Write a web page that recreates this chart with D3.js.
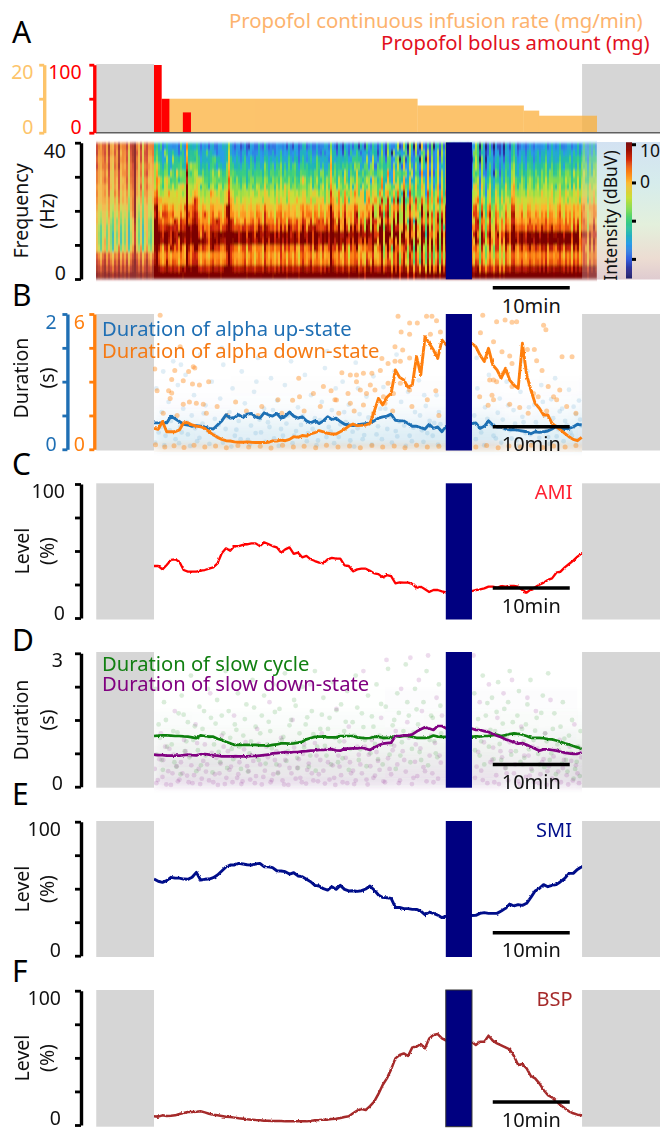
<!DOCTYPE html>
<html><head><meta charset="utf-8">
<script src="https://cdn.jsdelivr.net/npm/d3@7/dist/d3.min.js"></script>
<style>html,body{margin:0;padding:0;background:#fff}svg{display:block}text{font-family:"Noto Sans",sans-serif}</style>
</head><body><svg id="c" width="660" height="1129"></svg>
<script>
// ---------- DATA (time in minutes from induction; sampled every 0.55 min) ----------
const sampleStep = 0.55;
const amiLevel = [38.8,38.8,36.3,39.6,43.3,43.8,42,35.8,34.6,34.6,
34.6,35.3,35.8,36.8,37.8,40.8,48.3,52,50.2,53.7,
53.7,54.5,55,55.7,55.7,53.7,56.5,55.2,53.7,52.7,
48.8,51.2,52.7,47.8,48.8,45.3,46.3,43.8,42.5,41.3,
40.8,43.8,44.8,44.3,44.3,39.3,38.8,34.8,36.3,36.8,
36.8,35.3,33.3,32.8,30.3,32,31.3,25.9,26.6,26.4,
26.4,25.4,22.4,23.4,21.4,19.4,20.9,20.9,19.9,19.2,
20,20,20,20,20,20,20.9,21.4,22.1,23.4,
23.4,22.6,23.9,23.4,23.9,23.9,23.4,20.9,18.9,21.4,
22.9,24.9,26.4,28.4,29.6,33.8,34.6,37.8,40.3,42.8,
45.8,48.3,43.8];
const smiLevel = [57.2,55.5,54.7,56,58.5,57.9,57.9,57.2,57,58.5,
62.2,56.5,57,57.2,58.2,60.2,63.2,66.2,67.7,67.7,
68.9,68.4,67.9,67.7,68.4,68.9,66.4,66.4,65.7,63.4,
63.2,62.7,60.9,61.9,59.5,59,57,55.2,52.5,52,
50,49,51.5,49.5,52.5,49.5,48.3,48.5,48,48.5,
49.8,52,49,45.3,43.5,43.3,42.8,36,36,35.1,
35.1,34.6,34.6,33.3,30.6,32.6,31.6,30.3,28.4,29.6,
30,30,30,30,30,30,30.1,31.6,32.1,31.6,
31.6,31.6,33.3,35.3,38.6,37.1,38.1,37.6,39.1,43.5,
48.3,50.2,53,51.5,52.5,53,55.2,57.7,61.4,61.4,
64.4,66.4,65.9];
const bspLevel = [6.5,6.2,7.2,6.7,6.9,7.2,8.2,8.9,9.7,9.7,
9.9,10.2,9.4,8.4,7.7,7.2,6.7,6.2,6,5.5,
5,4.7,4.2,4,3.7,3.5,3.2,3.2,3,3,
3,2.7,2.7,2.7,2.7,2.7,2.7,3,3.5,3.7,
4,4,4.5,4.7,5.2,6,6.5,8.7,10.7,11.9,
11.2,14.1,17.4,23.1,29.8,34.7,41.4,49.6,52.1,53.3,
51.4,57.8,58.3,60.3,57.1,64.5,67,67.7,64.5,62.8,
62,62,62,62,62,62,59.6,62,62,66.5,
62.8,60.8,59.3,57.8,56.3,51.4,44.7,45.4,42.2,36.5,
34.7,31,26.1,22.3,20.6,17.4,14.9,12.4,10.2,8.7,
7.7,7.2,6.7];
const alphaUp = [.39,.39,.39,.39,.49,.45,.41,.37,.36,.34,
.35,.34,.33,.31,.30,.36,.42,.51,.46,.47,
.51,.47,.52,.53,.48,.46,.54,.51,.49,.53,
.46,.49,.55,.49,.46,.48,.42,.39,.42,.38,
.42,.48,.44,.46,.41,.37,.36,.35,.36,.37,
.38,.39,.42,.46,.48,.49,.52,.43,.42,.42,
.38,.34,.34,.32,.30,.37,.31,.33,.26,.34,
.36,.36,.36,.36,.36,.38,.39,.31,.34,.42,
.36,.33,.33,.30,.29,.29,.28,.27,.26,.23,
.26,.25,.26,.27,.30,.34,.31,.29,.31,.33,
.37,.36];
const alphaDown = [.93,.89,1.23,.78,.78,.78,.86,1.18,1.18,1.08,
1.03,1.0,.93,.78,.64,.53,.44,.38,.37,.33,
.31,.31,.33,.31,.30,.30,.30,.31,.37,.37,
.41,.38,.44,.56,.53,.61,.59,.68,.74,.83,
.77,.71,.68,.68,.78,.89,1.03,1.12,1.05,1.06,
1.08,1.15,1.67,2.26,1.97,2.31,2.48,3.52,3.19,3.07,
2.75,2.85,4.11,3.30,4.99,4.70,4.40,4.03,4.85,4.63,
4.55,4.55,4.55,4.55,4.63,4.70,4.55,4.18,3.89,4.48,
3.74,3.52,3.15,3.59,3.07,2.85,2.70,4.70,3.30,2.63,
2.04,1.82,1.52,1.52,1.15,1.0,.86,.71,.56,.44,
.38,.53];
const slowCycle = [1.14,1.15,1.155,1.155,1.15,1.14,1.14,1.13,1.125,1.11,
1.09,1.155,1.14,1.125,1.125,1.08,1.05,1.01,.975,.94,
.94,.94,.94,.94,.94,.93,.93,.92,.94,.95,
.975,.975,.97,.975,.99,1.01,1.065,1.095,1.12,1.125,
1.125,1.11,1.11,1.11,1.14,1.14,1.14,1.14,1.11,1.10,
1.09,1.095,1.125,1.12,1.10,1.10,1.10,1.14,1.125,1.14,
1.14,1.12,1.10,1.10,1.10,1.11,1.15,1.125,1.12,1.12,
1.12,1.12,1.12,1.12,1.12,1.12,1.135,1.125,1.14,1.14,
1.16,1.17,1.14,1.16,1.185,1.20,1.19,1.17,1.14,1.10,
1.10,1.10,1.09,1.07,1.065,1.04,1.01,.975,.95,.915,
.885,.85];
const slowDown = [.72,.71,.71,.70,.70,.70,.70,.71,.72,.71,
.705,.73,.735,.72,.705,.70,.68,.68,.68,.68,
.68,.68,.68,.69,.69,.70,.71,.72,.75,.757,
.765,.78,.765,.78,.78,.795,.80,.81,.817,.83,
.825,.84,.84,.817,.81,.855,.855,.86,.86,.877,
.855,.825,.885,.93,.967,.98,.99,1.14,1.14,1.155,
1.155,1.177,1.24,1.29,1.335,1.31,1.275,1.365,1.365,1.31,
1.31,1.31,1.31,1.31,1.31,1.31,1.275,1.275,1.25,1.23,
1.185,1.147,1.11,1.065,1.035,1.0,.967,.98,.945,.9,
.855,.81,.84,.84,.825,.81,.787,.765,.75,.74,
.74,.77];
// propofol
const bolusStart=[0,1,3.75], bolusEnd=[1,2,4.8], bolusMg=[100,50,30];
const infusionStart=[1,34.2,48,50], infusionEnd=[34.2,48,50,57.5], infusionRate=[10,8,6.5,5];
// scatter points [time, duration]
const upDots=[[.3,.9],[.6,.25],[1,.55],[1.2,1.15],[1.5,.2],[1.9,.7],[2.2,.42],[2.5,1.3],[2.8,.15],[3.1,.95],[3.4,.33],[3.8,.6],[4.1,1.1],[4.4,.22],[4.9,.5],[5.2,.8],[5.6,.12],[6,1.4],[6.3,.38],[6.7,.65],[7,.27],[7.5,1],[7.9,.45],[8.2,.18],[8.6,.75],[9,1.25],[9.3,.3],[9.8,.55],[10.2,.9],[10.5,.2],[11,.42],[11.4,1.15],[11.8,.68],[12.2,.14],[12.6,.35],[13,.85],[13.5,1.35],[13.9,.25],[14.3,.6],[14.8,.4],[15.2,1.05],[15.6,.16],[16,.72],[16.5,.3],[17,.95],[17.4,.5],[17.8,1.3],[18.2,.2],[18.7,.62],[19.1,.36],[19.6,1.1],[20,.24],[20.4,.8],[20.9,.46],[21.3,.13],[21.8,.7],[22.2,1.2],[22.7,.33],[23.1,.58],[23.6,.9],[24,.18],[24.5,1.0],[24.9,.4],[25.3,.66],[25.8,.26],[26.2,1.28],[26.7,.52],[27.1,.15],[27.6,.78],[28,.38],[28.5,1.08],[28.9,.22],[29.4,.6],[29.8,.92],[30.3,.3],[30.7,.48],[31.2,1.15],[31.6,.19],[32.1,.7],[32.5,.35],[33,.85],[33.5,.12],[33.9,.55],[34.4,1.02],[34.8,.28],[35.3,.64],[35.8,.42],[36.2,.2],[36.7,.8],[37.2,.37],[41.6,.5],[42,.9],[42.5,.25],[43,.62],[43.5,1.1],[43.9,.35],[44.4,.16],[44.9,.75],[45.3,.44],[45.8,1.0],[46.2,.28],[46.7,.58],[47.1,.13],[47.6,.85],[48,.4],[48.5,1.15],[48.9,.22],[49.4,.66],[49.8,.33],[50.3,.95],[50.7,.5],[51.2,.18],[51.6,.74],[52.1,1.05],[52.5,.3],[53,.6],[53.4,.42],[53.9,.88],[54.3,.2],[54.8,.52],[55.2,.72],[55.5,.35],
[.15,.1],[.9,.33],[1.35,.06],[2.05,.28],[2.6,.48],[3.25,.09],[3.6,.25],[4.25,.4],[4.7,.05],[5.35,.31],[5.9,.17],[6.45,.53],[7.2,.08],[7.75,.22],[8.4,.36],[8.95,.1],[9.55,.47],[10.05,.04],[10.7,.29],[11.25,.15],[12,.51],[12.45,.07],[13.2,.24],[13.7,.44],[14.45,.11],[15,.33],[15.45,.58],[16.2,.05],[16.75,.2],[17.2,.38],[18,.09],[18.45,.27],[19.3,.49],[19.85,.12],[20.6,.3],[21.1,.06],[21.55,.43],[22.4,.18],[22.95,.26],[23.4,.09],[24.2,.37],[24.7,.55],[25.5,.13],[26,.04],[26.45,.31],[27.3,.21],[27.85,.47],[28.3,.07],[29.1,.34],[29.6,.15],[30.05,.6],[30.9,.1],[31.4,.27],[31.85,.41],[32.7,.05],[33.2,.2],[33.7,.32],[34.55,.5],[35,.11],[35.5,.24],[36.4,.39],[36.9,.07],[41.8,.15],[42.25,.33],[42.9,.06],[43.3,.45],[44.1,.2],[44.65,.54],[45.1,.1],[45.55,.3],[46,.65],[46.45,.16],[46.9,.38],[47.35,.05],[47.85,.48],[48.25,.24],[48.7,.62],[49.15,.1],[49.6,.4],[50.05,.17],[50.5,.7],[50.95,.28],[51.4,.08],[51.85,.46],[52.3,.19],[52.7,.56],[53.2,.12],[53.6,.36],[54.1,.25],[54.5,.63],[55,.14],[55.35,.44],[37,.55],[35.1,.8],[26.5,.9],[13.3,1.0],[3.5,1.25],[41.9,1.35],[22.5,1.45],[47.9,1.3],[31.5,1.4],[8.8,1.5]];
const downDots=[[.8,5.95],[.1,3.56],[2.7,3.5],[4.5,3.45],[5.1,3.66],[5.3,3.6],[2.3,3.1],[3.8,3.04],[7.1,3],[5,2.9],[5.9,2.85],[1.9,2.6],[2.3,2.5],[2.1,2.25],[.4,2.6],[3.8,2],[5.5,2.04],[4.6,2.1],[6.4,2],[3.4,4.55],[18.8,3.15],[22,2.78],[20.7,2.48],[18,2.18],[18.9,2.33],[8.2,1.9],[10.6,2.1],[12,1.7],[14,1.9],[16.1,2.2],[1.2,1.6],[3,1.5],[6.8,1.6],[9.5,1.5],[13.5,1.5],[16.6,1.6],[19.5,1.7],[21.6,1.9],[23.5,2.2],[23,2.6],[31.7,5.9],[35.4,5.9],[36.1,5.9],[33.2,5.6],[34.2,5.6],[36.7,5.7],[32.1,5.2],[33.2,5.1],[35.9,5.1],[37.2,5.2],[31.3,4.55],[32.3,4.4],[29.6,4.03],[30.4,3.8],[31.3,3.9],[32,3.9],[33.2,4.05],[24.4,3.4],[25.5,3.3],[26.3,3.3],[27.2,3.37],[28.3,3.37],[29.4,3.5],[28.1,2.85],[26.3,3],[26.8,2.63],[25.2,2.48],[27.6,2.48],[28.7,2.63],[23.7,2.19],[25.5,2.04],[27.2,1.97],[29.8,2.33],[30.4,2.93],[32,2.93],[33.2,2.63],[30,2.04],[31.1,2.48],[24,1.6],[26,1.7],[28.5,1.6],[31,1.7],[33.5,1.9],[35.5,2.2],[36.6,2.6],[37,1.5],[42.7,5.95],[44.5,5.66],[45.6,5.73],[46.5,5.63],[47.1,5.66],[50.6,5.5],[50.9,5.3],[42.4,5.17],[44.1,4.77],[45.2,4.33],[48.5,4.43],[49.4,4.43],[46.2,4.14],[49.7,3.93],[46.5,3.8],[50.4,3.5],[45.4,3.4],[53,4.1],[54.3,4.1],[51.2,2.78],[52.7,2.63],[44.1,3.07],[43.6,3.07],[44.5,3],[46.5,2.78],[42.3,2.33],[43.9,2.4],[44.1,2.2],[49.9,2.33],[51.9,2.33],[52.3,2.2],[49.3,2.48],[46.2,2],[47.5,1.85],[43.4,1.95],[48.6,1.6],[51,1.7],[53.6,1.9],[54.8,1.6],[.2,.2],[1.4,.1],[2.6,.16],[3.9,.08],[5.2,.18],[6.6,.1],[8,.15],[9.4,.07],[10.9,.17],[12.3,.1],[13.8,.14],[15.2,.06],[16.7,.18],[18.1,.1],[19.5,.14],[21,.07],[22.4,.18],[23.9,.1],[25.4,.15],[26.8,.07],[28.3,.17],[29.7,.1],[31.2,.15],[32.6,.07],[34.1,.18],[35.5,.1],[37,.14],[41.8,.1],[43.2,.17],[44.7,.07],[46.1,.15],[47.6,.1],[49,.18],[50.5,.08],[51.9,.15],[53.4,.1],[54.8,.17]];
const cycleDots=[[.2,2.2],[.6,1.4],[1,.6],[1.3,1.9],[1.7,.9],[2.1,2.35],[2.5,1.25],[2.9,.45],[3.2,1.65],[3.6,2.05],[4,.8],[4.4,1.45],[4.8,2.5],[5.1,1.05],[5.5,.35],[5.9,1.8],[6.3,1.3],[6.7,.7],[7,2.2],[7.4,1.55],[7.8,.95],[8.2,1.95],[8.6,.55],[9,1.2],[9.3,2.6],[9.7,1.7],[10.1,.85],[10.5,1.4],[10.9,2.1],[11.3,.4],[11.6,1.15],[12,1.85],[12.4,.75],[12.8,2.4],[13.2,1.35],[13.6,.6],[14,1.6],[14.3,2.05],[14.7,.95],[15.1,1.25],[15.5,2.3],[15.9,.5],[16.3,1.75],[16.6,1.05],[17,2.55],[17.4,.8],[17.8,1.5],[18.2,1.95],[18.6,.65],[18.9,1.2],[19.3,2.25],[19.7,1.4],[20.1,.45],[20.5,1.7],[20.9,2.6],[21.2,.9],[21.6,1.3],[22,2],[22.4,.7],[22.8,1.55],[23.2,2.35],[23.5,1.1],[23.9,.55],[24.3,1.85],[24.7,1.25],[25.1,2.15],[25.5,.85],[25.8,1.45],[26.2,2.5],[26.6,.6],[27,1.65],[27.4,1.05],[27.8,2.05],[28.1,.75],[28.5,1.35],[28.9,2.3],[29.3,1.15],[29.7,.5],[30.1,1.8],[30.4,2.65],[30.8,.95],[31.2,1.5],[31.6,2.1],[32,.7],[32.4,1.25],[32.7,2.75],[33.1,1.6],[33.5,.85],[33.9,2.2],[34.3,1.4],[34.7,.6],[35,1.9],[35.4,2.6],[35.8,1.05],[36.2,1.55],[36.6,.75],[37,2.3],[37.3,1.2],[41.6,2.1],[41.9,1.3],[42.3,.7],[42.7,2.5],[43.1,1.6],[43.5,.9],[43.9,2.0],[44.3,1.25],[44.7,2.35],[45.1,.6],[45.5,1.75],[45.8,1.1],[46.2,2.6],[46.6,1.45],[47,.8],[47.4,2.15],[47.8,1.3],[48.1,.65],[48.5,1.85],[48.9,2.4],[49.3,1.05],[49.7,1.55],[50.1,.5],[50.5,2.05],[50.8,1.2],[51.2,2.55],[51.6,.75],[52,1.65],[52.4,.95],[52.8,1.35],[53.1,1.9],[53.5,.6],[53.9,1.15],[54.3,1.5],[54.7,.4],[55.1,.9],[55.4,1.25],
[.35,.72],[.8,1.1],[1.15,.38],[1.55,1.5],[2.3,.95],[2.65,.55],[3.05,1.22],[3.45,.28],[3.85,1.62],[4.2,1.02],[4.6,.66],[5.3,1.36],[5.7,.82],[6.1,.48],[6.5,1.7],[7.2,1.12],[7.6,.32],[8,1.42],[8.4,.78],[8.8,1.6],[9.5,.42],[9.9,1.1],[10.3,.62],[10.7,1.28],[11.1,.9],[11.8,1.52],[12.2,.34],[12.6,1.02],[13,1.78],[13.4,.68],[13.8,1.2],[14.5,.52],[14.9,1.46],[15.3,.86],[15.7,1.68],[16.1,.3],[16.8,1.12],[17.2,.58],[17.6,1.38],[18,.98],[18.4,1.82],[18.7,.42],[19.5,.88],[19.9,1.56],[20.3,.7],[20.7,1.18],[21,.36],[21.8,1.62],[22.2,.92],[22.6,1.3],[23,.5],[23.7,1.72],[24.1,1.02],[24.5,.64],[24.9,1.46],[25.3,.38],[26,1.15],[26.4,1.78],[26.8,.84],[27.2,1.34],[27.6,.46],[28.3,1.58],[28.7,.96],[29.1,.62],[29.5,1.86],[29.9,1.1],[30.6,.72],[31,1.38],[31.4,.4],[31.8,1.66],[32.2,1],[32.9,1.9],[33.3,.55],[33.7,1.22],[34.1,1.74],[34.5,.78],[35.2,1.32],[35.6,.48],[36,1.6],[36.4,1.02],[36.8,.66],[37.2,1.82],[41.7,.82],[42.1,1.52],[42.5,1.02],[42.9,.5],[43.3,1.88],[43.7,1.28],[44.1,.62],[44.5,1.68],[44.9,.96],[45.3,1.42],[45.7,.42],[46,1.9],[46.4,.72],[46.8,1.18],[47.2,1.6],[47.6,.56],[48,1.02],[48.3,1.4],[48.7,.84],[49.1,.36],[49.5,1.26],[49.9,.74],[50.3,1.66],[50.7,.44],[51,1.02],[51.4,.6],[51.8,1.3],[52.2,.28],[52.6,.82],[53,.52],[53.3,1.08],[53.7,.34],[54.1,.76],[54.5,.18],[54.9,.56],[55.3,.24]];
const stateDots=[[.1,.4],[.5,.15],[.9,1.2],[1.2,.6],[1.6,.05],[2,.85],[2.4,.3],[2.7,1.7],[3.1,.12],[3.5,.55],[3.9,1.05],[4.3,.25],[4.7,.7],[5,.08],[5.4,1.4],[5.8,.4],[6.2,.18],[6.6,.95],[6.9,.5],[7.3,2.1],[7.7,.1],[8.1,.65],[8.5,.3],[8.8,1.15],[9.2,.06],[9.6,.8],[10,.45],[10.4,1.6],[10.8,.2],[11.1,.55],[11.5,.12],[11.9,1],[12.3,.35],[12.7,.7],[13.1,.08],[13.4,1.3],[13.8,.5],[14.2,.22],[14.6,.9],[15,1.9],[15.3,.15],[15.7,.6],[16.1,.32],[16.5,1.1],[16.9,.05],[17.3,.75],[17.6,.42],[18,1.5],[18.4,.18],[18.8,.62],[19.2,.1],[19.5,.95],[19.9,.38],[20.3,2.3],[20.7,.14],[21.1,.7],[21.4,.28],[21.8,1.2],[22.2,.07],[22.6,.55],[23,.85],[23.4,.2],[23.7,1.75],[24.1,.45],[24.5,.1],[24.9,.65],[25.3,1.35],[25.6,.3],[26,.06],[26.4,.9],[26.8,.5],[27.2,2.6],[27.6,.16],[27.9,.72],[28.3,1.05],[28.7,.25],[29.1,.58],[29.5,1.55],[29.8,.12],[30.2,2.85],[30.6,.4],[31,.82],[31.4,1.25],[31.8,.08],[32.1,2.2],[32.5,.6],[32.9,1.45],[33.3,2.9],[33.7,.2],[34,.95],[34.4,2.4],[34.8,1.7],[35.2,.35],[35.6,2.95],[36,1.15],[36.3,.1],[36.7,2],[37.1,.7],[37.4,1.6],[41.5,2.95],[41.9,.45],[42.3,1.9],[42.7,.15],[43.1,1.25],[43.5,2.3],[43.9,.6],[44.2,.1],[44.6,1.55],[45,.8],[45.4,2.1],[45.8,.3],[46.2,1],[46.5,2.4],[46.9,.5],[47.3,.12],[47.7,1.35],[48.1,.7],[48.5,2],[48.8,.25],[49.2,.9],[49.6,1.7],[50,.08],[50.4,.55],[50.8,1.2],[51.1,.35],[51.5,1.95],[51.9,.68],[52.3,.15],[52.7,1.05],[53.1,.42],[53.4,.75],[53.8,.05],[54.2,.58],[54.6,1.4],[55,.3],[55.4,.85],
[.3,.08],[.7,.62],[1.1,.22],[1.45,.9],[1.85,.35],[2.2,.04],[2.55,.72],[2.95,.46],[3.3,.16],[3.7,.3],[4.1,.8],[4.5,.1],[4.85,.48],[5.2,.26],[5.6,.98],[6,.06],[6.4,.58],[6.75,.34],[7.15,.14],[7.5,.76],[7.9,.28],[8.3,.04],[8.65,.52],[9.05,.9],[9.4,.2],[9.8,.38],[10.2,.1],[10.6,.68],[10.95,.28],[11.35,.06],[11.7,.84],[12.1,.46],[12.5,.16],[12.9,.58],[13.25,.24],[13.6,.96],[14,.05],[14.4,.36],[14.8,.66],[15.15,.1],[15.5,.28],[15.9,.8],[16.3,.48],[16.7,.14],[17.05,.6],[17.45,.04],[17.85,.3],[18.2,.88],[18.6,.42],[19,.2],[19.35,.74],[19.75,.07],[20.1,.52],[20.5,.3],[20.9,.98],[21.3,.12],[21.6,.6],[22,.36],[22.4,.84],[22.8,.16],[23.2,.48],[23.55,.04],[23.95,.7],[24.3,.26],[24.7,1.02],[25.1,.08],[25.45,.55],[25.85,.36],[26.2,.14],[26.6,.72],[27,.3],[27.4,.9],[27.75,.05],[28.1,.46],[28.5,.2],[28.9,.78],[29.3,.38],[29.65,1.08],[30,.1],[30.4,.64],[30.8,.28],[31.2,.92],[31.6,.5],[31.95,.14],[32.3,.8],[32.7,.34],[33.1,1.1],[33.5,.06],[33.9,.56],[34.2,.24],[34.6,.86],[35,.44],[35.4,.12],[35.8,.7],[36.15,.3],[36.5,.98],[36.9,.18],[37.25,.54],[41.7,.2],[42.1,.78],[42.5,.36],[42.85,1],[43.3,.08],[43.7,.55],[44.05,.88],[44.45,.26],[44.8,.06],[45.2,.66],[45.6,.42],[46,.14],[46.35,.8],[46.75,.3],[47.1,.98],[47.5,.05],[47.9,.5],[48.3,.22],[48.65,.7],[49,.4],[49.4,.1],[49.8,.86],[50.2,.28],[50.6,.62],[51,.04],[51.3,.46],[51.7,.18],[52.1,.82],[52.5,.34],[52.85,.1],[53.25,.6],[53.6,.26],[54,.9],[54.4,.14],[54.8,.48],[55.2,.08],[55.5,.66]];
// smooth cloud densities: rows = duration bands, columns = 5 min bins starting at t=0
const upBands=[0,.15,.3,.45,.6,.8,1.05], downBands=[0,.12,.3];
const upDensity=[[.30,.28,.28,.3,.3,.3,.32,.34,.36,.2,.3,.42],[.28,.26,.26,.28,.28,.28,.3,.34,.34,.2,.28,.42],[.18,.16,.18,.18,.18,.18,.2,.22,.24,.14,.18,.32],[.08,.08,.08,.1,.08,.09,.1,.12,.12,.07,.1,.18],[.03,.03,.04,.04,.04,.04,.05,.05,.05,.03,.05,.08],[.01,.01,.015,.015,.015,.015,.02,.02,.02,.01,.02,.03]];
const downDensity=[[.35,.35,.35,.35,.35,.35,.35,.35,.35,.3,.35,.4],[.08,.07,.07,.07,.07,.07,.07,.08,.07,.05,.07,.1]];
const slowBands=[0,.2,.45,.7,1,1.3,1.7,2.2];
const cycleDensity=[[.06,.06,.06,.06,.06,.06,.06,.06,.06,.05,.08,.12],[.18,.2,.18,.18,.18,.18,.18,.18,.18,.1,.22,.32],[.22,.24,.22,.22,.22,.2,.2,.2,.2,.12,.26,.34],[.16,.16,.16,.16,.16,.16,.16,.16,.16,.12,.2,.24],[.1,.08,.1,.1,.1,.1,.1,.1,.1,.08,.12,.1],[.04,.03,.04,.04,.04,.04,.05,.05,.05,.04,.05,.04],[.01,.01,.01,.01,.01,.01,.015,.02,.02,.015,.02,.01]];
const stateDensity=[[.34,.34,.34,.34,.34,.32,.3,.3,.3,.2,.3,.36],[.2,.2,.2,.2,.2,.18,.16,.16,.16,.1,.2,.3],[.12,.12,.12,.12,.12,.11,.1,.1,.1,.08,.12,.16],[.05,.05,.05,.05,.05,.05,.05,.06,.06,.05,.06,.06],[.015,.015,.015,.015,.015,.02,.025,.03,.03,.025,.03,.02],[.005,.005,.005,.005,.005,.01,.01,.015,.015,.015,.015,.01],[0,0,0,0,0,0,.005,.01,.01,.01,.01,0]];
// spectrogram: dB per 2 Hz band (top = 38-40 Hz) per 2.5 min block starting at -7.5 min
const specBlock=2.5, specBandHz=2, specStart=-7.5;
const specGrid=[
[4,5,4,-17,-17,-18,-18,-19,-18,-18,-18,-18,-19,-18,-18,-18,-18,-19,-19,-19,-21,-20,-19,-18,-18,-17],
[4,4,4,-15,-16,-16,-17,-17,-17,-16,-16,-17,-17,-16,-17,-17,-17,-18,-18,-18,-20,-19,-17,-16,-16,-15],
[3,4,3,-14,-14,-15,-15,-15,-15,-14,-15,-15,-15,-14,-15,-16,-17,-17,-18,-18,-18,-17,-16,-15,-14,-13],
[3,3,2,-12,-12,-13,-13,-13,-13,-12,-13,-13,-13,-12,-13,-14,-16,-16,-17,-17,-17,-15,-14,-13,-12,-11],
[2,3,2,-10,-10,-11,-11,-11,-11,-10,-11,-11,-11,-11,-11,-12,-14,-15,-16,-16,-16,-14,-12,-11,-10,-10],
[2,2,1,-9,-9,-10,-9,-10,-9,-9,-9,-9,-9,-9,-10,-11,-13,-14,-14,-15,-14,-12,-10,-9,-9,-8],
[1,2,1,-7,-7,-8,-8,-8,-8,-7,-8,-8,-8,-8,-8,-9,-11,-12,-13,-13,-12,-10,-9,-8,-8,-7],
[1,1,0,-5,-5,-6,-5,-6,-5,-5,-5,-6,-5,-5,-6,-7,-9,-10,-10,-11,-10,-8,-7,-6,-6,-5],
[0,0,-1,-3,-4,-4,-4,-4,-4,-4,-4,-4,-4,-4,-4,-5,-7,-8,-9,-9,-8,-6,-5,-5,-5,-4],
[-1,-1,-2,-1,-1,-2,-1,-2,-1,-1,-1,-1,-1,-1,-2,-3,-4,-6,-6,-7,-5,-4,-3,-3,-2,-2],
[-2,-2,-2,1,1,0,1,0,1,1,0,1,1,1,0,-1,-3,-4,-5,-5,-3,-2,-1,-1,-1,-1],
[-2,-3,-3,3,3,2,3,2,3,3,3,3,3,2,2,1,-1,-2,-3,-3,-1,0,1,1,1,0],
[-3,-3,-3,7,7,5,6,6,7,6,6,7,6,6,5,4,2,0,-1,-1,1,3,4,4,4,2],
[-3,-3,-3,11,10,8,10,11,11,11,10,11,11,10,10,9,7,4,3,3,6,9,10,11,11,6],
[-2,-3,-2,10,10,10,11,11,11,11,11,11,11,10,10,9,7,4,3,3,5,9,11,11,11,6],
[-1,0,0,6,5,7,6,5,5,6,5,6,6,5,5,5,4,2,1,1,2,4,6,6,6,4],
[6,6,6,4,4,4,4,4,4,4,4,4,4,4,4,4,3,2,1,1,2,3,4,4,4,4],
[8,8,8,5,5,5,5,5,5,5,5,5,5,5,5,5,4,3,3,3,4,4,5,5,5,5],
[9,9,9,9,9,9,9,9,9,9,9,9,9,9,9,9,8,8,8,8,8,8,9,9,9,9],
[10,10,10,11,11,11,11,11,11,11,11,11,11,11,11,11,11,11,11,11,11,11,11,11,11,11]];
// time-resolved deviations (dB) per 0.26 min column, high band and low band
const specColumn=0.26;
const stripeHigh=[1,-1,2,0,-1,1,3,-2,0,1,
-1,2,0,-2,1,0,-3,2,1,8,
0,-2,1,-3,2,0,-1,1,-2,6,
12,3,1,-2,3,5,0,-1,2,-1,
1,-2,3,0,-1,24,3,2,4,7,
9,3,-1,2,0,1,-2,3,4,1,
-1,2,0,-2,1,5,18,4,3,-1,
2,0,-1,1,4,-2,0,3,1,-2,
1,3,0,-2,6,2,-1,0,1,-3,
2,0,4,-1,1,-2,3,0,-1,2,
0,-3,1,5,2,-1,0,3,-2,1,
3,-1,0,2,-2,1,-1,16,3,2,
-1,5,0,-2,7,1,-3,2,0,4,
7,-2,1,0,-3,6,3,-1,9,0,
-2,4,10,-3,0,12,1,-4,8,2,
13,-4,0,14,3,-4,15,5,-5,12,
0,-5,15,4,-6,17,-3,11,-5,2,
14,-6,12,-2,15,10,5,0,0,0,
0,0,0,0,0,0,0,0,10,15,
12,-5,14,4,-6,3,11,0,-4,7,
5,-3,2,-4,6,1,-2,9,12,3,
-1,2,4,0,-2,3,5,1,-1,2,
3,-1,3,1,5,-2,2,4,0,-1,
2,5,0,-2,3,1,3,-3,4,0,
5,-2,3,6,2,-3,4,1,6,3];
const stripeLow=[-1,-3,-6,-2,0,-5,-1,-4,-7,-2,
-4,0,-6,-2,-5,-1,-7,-3,0,3,
-2,-5,-1,-7,-3,0,-4,-6,-2,3,
6,1,-3,-5,-2,1,-3,-4,-1,-2,
-3,-6,-1,-3,-4,8,1,-2,1,2,
2,-3,-5,-2,-1,-4,-6,-2,0,-3,
-2,-1,-4,-3,-2,1,7,1,-1,-3,
-2,-4,-3,-1,0,-5,-2,-1,-3,-6,
-2,-1,-3,-5,1,-2,-4,-1,-3,-5,
-2,-4,0,-3,-1,-5,-1,-2,-4,-1,
-3,-6,-1,1,-2,-4,-1,0,-5,-2,
-1,-3,-5,-1,-4,-2,-3,5,1,-2,
-4,0,-3,-5,1,-2,-6,-1,-3,0,
1,-6,-2,-3,-7,1,-1,-4,2,-3,
-6,-1,3,-8,-3,2,-2,-9,2,-3,
3,-10,-3,3,-2,-10,4,-1,-11,2,
-3,-11,4,-2,-12,4,-7,2,-10,-2,
3,-12,2,-6,3,2,-1,0,0,0,
0,0,0,0,0,0,0,0,-3,2,
1,-9,2,-2,-10,-3,1,-4,-8,0,
0,-7,-3,-8,1,-2,-5,1,2,-2,
-3,-1,0,-3,-4,-2,0,-2,-3,-1,
-1,-3,0,-2,1,-4,-1,0,-3,-2,
-1,1,-2,-4,0,-2,-1,-5,0,-2,
0,-4,-1,1,-1,-5,0,-2,1,-1];
const highGain=[.7,.7,.7,.7,.7,.7,.7,.7,.7,.7,.7,.6,.45,.3,.2,.2,0,0,0,0];
const lowGain=[0,0,0,0,0,0,0,0,0,0,.2,.4,.6,.8,.9,.9,1,1,.7,.3];
const rowShift=[3,11,7,19,5,14,23,9,17,1,12,6,21,4,15,8,25,10,2,13];
const dbStops=[-25,-23,-20,-16,-13,-10,-7,-4,0,3,6,10];
const dbColors=["#20206a","#2a2a90","#3560e0","#2a9ee8","#1fb8b0","#3ccf7e","#7fdc50","#c8e03a","#fdb72f","#fb7a12","#d42a0a","#7a0000"];
const cbarTicks=[10,0,-10,-20];
const panelTimes={leftGray:[-7.5,0],rightGray:[55.6,65.8],gap:[37.9,41.3],scale:[44,54]};
const titles=["Propofol continuous infusion rate (mg/min)","Propofol bolus amount (mg)"];

[[amiLevel,103],[smiLevel,103],[bspLevel,103],[alphaUp,102],[alphaDown,102],[slowCycle,102],[slowDown,102],[stripeHigh,250],[stripeLow,250]].forEach((p,i)=>{if(p[0].length!==p[1])throw new Error("len "+i+" "+p[0].length)});
specGrid.forEach((r,i)=>{if(r.length!==26)throw new Error("grid "+i+" "+r.length)});

// ---------- SCALES ----------
const svg=d3.select("#c");
const defs=svg.append("defs");
const x=d3.scaleLinear().domain([-7.5,65.8]).range([96.25,660.6]);
const GRAY="#d6d6d6", NAVY="#000080", FS=19.5;
const black="#000";
function txt(g,s,px,py,o={}){
  const t=g.append("text").attr("x",px).attr("y",py).text(s)
   .attr("font-size",o.size||FS).attr("fill",o.fill||"#111").attr("text-anchor",o.anchor||"start");
  if(o.rot) t.attr("transform",`rotate(-90 ${px} ${py})`);
  return t;
}
function yAxis(scale,px,color,ticks,len){
  const g=svg.append("g").attr("transform",`translate(${px},0)`)
   .call(d3.axisLeft(scale).tickValues(ticks).tickFormat("").tickSize(len||5).tickSizeOuter(0));
  g.select(".domain").attr("stroke",color).attr("stroke-width",3.4);
  g.selectAll(".tick line").attr("stroke",color).attr("stroke-width",2.8);
  return g;
}
function ylabel2(a,b,cy,x1,x2){
  txt(svg,a,x1,cy,{rot:true,anchor:"middle"});
  txt(svg,b,x2,cy,{rot:true,anchor:"middle"});
}
function gray(top,bottom){
  svg.append("rect").attr("x",x(panelTimes.leftGray[0])).attr("width",x(panelTimes.leftGray[1])-x(panelTimes.leftGray[0])).attr("y",top).attr("height",bottom-top).attr("fill",GRAY);
}
function grayRight(top,bottom){
  svg.append("rect").attr("x",x(panelTimes.rightGray[0])).attr("width",x(panelTimes.rightGray[1])-x(panelTimes.rightGray[0])).attr("y",top).attr("height",bottom-top).attr("fill",GRAY);
}
function gap(top,bottom,stroke){
  svg.append("rect").attr("x",x(panelTimes.gap[0])).attr("width",x(panelTimes.gap[1])-x(panelTimes.gap[0])).attr("y",top).attr("height",bottom-top).attr("fill",NAVY).attr("stroke",stroke||"none").attr("stroke-width",stroke?1:0);
}
function scaleBar(py,ty){
  svg.append("line").attr("x1",x(panelTimes.scale[0])).attr("x2",x(panelTimes.scale[1])).attr("y1",py).attr("y2",py).attr("stroke","#000").attr("stroke-width",3.4);
  txt(svg,"10min",(x(panelTimes.scale[0])+x(panelTimes.scale[1]))/2,ty,{anchor:"middle",size:20});
}
function drawLine(vals,y,color,w){
  const line=d3.line().x((d,i)=>x(i*sampleStep)).y(d=>y(d));
  svg.append("g").attr("clip-path","url(#cl2)").append("path").attr("d",line(vals)).attr("fill","none").attr("stroke",color).attr("stroke-width",w).attr("stroke-linejoin","round").attr("filter","url(#rough)");
}
defs.append("clipPath").attr("id","cl").append("rect").attr("x",x(0)).attr("y",0).attr("width",x(55.6)-x(0)).attr("height",1129);
defs.append("clipPath").attr("id","cl2").append("rect").attr("x",x(0)).attr("y",0).attr("width",x(55.8)-x(0)).attr("height",1129);
defs.append("filter").attr("id","soft").attr("x","-10%").attr("y","-30%").attr("width","120%").attr("height","160%").append("feGaussianBlur").attr("stdDeviation","6 3");
defs.append("filter").attr("id","dotblur").attr("filterUnits","userSpaceOnUse").attr("x",150).attr("y",300).attr("width",440).attr("height",500).append("feGaussianBlur").attr("stdDeviation",".55");
defs.append("filter").attr("id","vblur").attr("x","0").attr("y","-5%").attr("width","100%").attr("height","110%").append("feGaussianBlur").attr("stdDeviation","0.25 1.6");
const rough=defs.append("filter").attr("id","rough").attr("filterUnits","userSpaceOnUse").attr("x",140).attr("y",300).attr("width",460).attr("height",840);
rough.append("feTurbulence").attr("type","fractalNoise").attr("baseFrequency","0.4").attr("numOctaves",2).attr("seed",4).attr("result","n");
rough.append("feDisplacementMap").attr("in","SourceGraphic").attr("in2","n").attr("scale",2.4).attr("xChannelSelector","R").attr("yChannelSelector","G");
function density(mat,bands,y,color,maxOp){
  const g=svg.append("g").attr("clip-path","url(#cl)").append("g").attr("filter","url(#soft)");
  mat.forEach((row,r)=>row.forEach((d,c)=>{
    g.append("rect").attr("x",x(c*5)).attr("width",x(5)-x(0)+.5).attr("y",y(bands[r+1])).attr("height",y(bands[r])-y(bands[r+1])).attr("fill",color).attr("opacity",d*maxOp);
  }));
}
function dots(list,y,color,op,r){
  svg.append("g").attr("clip-path","url(#cl)").append("g").attr("filter","url(#dotblur)").selectAll("circle").data(list).join("circle")
   .attr("cx",d=>x(d[0])).attr("cy",d=>y(d[1])).attr("r",r||2.4).attr("fill",color).attr("opacity",op);
}

// ---------- TITLES + LETTERS ----------
txt(svg,titles[0],642.7,27.5,{anchor:"end",fill:"#fdb36e",size:20.35});
txt(svg,titles[1],649.5,49.5,{anchor:"end",fill:"#e2101e",size:20.3});
[["A",43.3],["B",305.7],["C",475],["D",651],["E",805],["F",981.6]].forEach(d=>txt(svg,d[0],12,d[1],{size:30,fill:"#000"}));

// ---------- PANEL A: propofol ----------
const yBolus=d3.scaleLinear().domain([0,100]).range([132.7,65]);
const yRate=d3.scaleLinear().domain([0,20]).range([132.7,64.7]);
gray(64,133); grayRight(64,133);
const infG=svg.append("g").attr("opacity",.75);
infG.selectAll("rect").data(infusionRate).join("rect").attr("x",(d,i)=>x(infusionStart[i])).attr("width",(d,i)=>x(infusionEnd[i])-x(infusionStart[i])+.3).attr("y",d=>yRate(d)).attr("height",d=>yRate(0)-yRate(d)).attr("fill","#fbb03b");
svg.append("g").selectAll("rect").data(bolusMg).join("rect").attr("x",(d,i)=>x(bolusStart[i])).attr("width",(d,i)=>x(bolusEnd[i])-x(bolusStart[i])).attr("y",d=>yBolus(d)).attr("height",d=>yBolus(0)-yBolus(d)).attr("fill","#ff0000");
svg.append("line").attr("x1",96).attr("x2",660).attr("y1",132.8).attr("y2",132.8).attr("stroke","#606060").attr("stroke-width",1.5);
yAxis(yRate,44.2,"#fdc46a",[0,10,20]);
yAxis(yBolus.copy().range([132.7,64.7]),94.3,"#ff0000",[0,50,100]);
txt(svg,"20",33.5,78.5,{anchor:"end",fill:"#fdc46a"});
txt(svg,"0",33.5,134,{anchor:"end",fill:"#fdc46a"});
txt(svg,"100",81.7,78.5,{anchor:"end",fill:"#ff0000"});
txt(svg,"0",81.7,134,{anchor:"end",fill:"#ff0000"});

// ---------- SPECTROGRAM ----------
const yFreq=d3.scaleLinear().domain([0,40]).range([279,142.7]);
const dbColor=d3.scaleLinear().domain(dbStops).range(dbColors).clamp(true);
const specG=svg.append("g").attr("filter","url(#vblur)");
const cells=[];
stripeHigh.forEach((sh,c)=>{
  const t=specStart+c*specColumn, b=Math.min(25,Math.floor((t-specStart)/specBlock));
  specGrid.forEach((row,r)=>{
    const pre=t<0?.3:1;
    const grain=((stripeLow[(c+rowShift[r])%250]+2.5)*.6*(r<16?1:.4)+stripeHigh[(c+rowShift[19-r])%250]*.25*highGain[r])*pre;
    const preStripe=t<0&&r<16?stripeLow[c]*.9:0;
    cells.push({t,r,v:row[b]+sh*highGain[r]+stripeLow[c]*lowGain[r]+grain+preStripe+(t<0&&r<16?2.5:0)});
  });
});
specG.selectAll("rect").data(cells).join("rect")
 .attr("x",d=>x(d.t)).attr("width",x(specColumn)-x(0)+.15)
 .attr("y",d=>yFreq(40-d.r*specBandHz)).attr("height",yFreq(0)-yFreq(specBandHz)+.2)
 .attr("fill",d=>dbColor(d.v)).attr("shape-rendering","crispEdges");
const pg=defs.append("linearGradient").attr("id","pale").attr("x1",0).attr("x2",0).attr("y1",0).attr("y2",1);
[[0,"#d3e2f2"],[.3,"#d6ecec"],[.6,"#e3f0dc"],[.85,"#ecdcd2"],[1,"#dfcbd0"]].forEach(s=>pg.append("stop").attr("offset",s[0]).attr("stop-color",s[1]));
svg.append("rect").attr("x",x(57.5)).attr("width",660-x(57.5)).attr("y",142).attr("height",137.5).attr("fill","url(#pale)");
svg.append("rect").attr("x",96).attr("width",x(0)-96).attr("y",142.4).attr("height",137).attr("fill",GRAY).attr("opacity",.22);
svg.append("rect").attr("x",x(55.6)).attr("width",x(57.5)-x(55.6)).attr("y",142.4).attr("height",137).attr("fill",GRAY).attr("opacity",.3);
gap(142.4,279.3);
const yDb=d3.scaleLinear().domain([-25,10.4]).range([278,142.7]);
svg.append("g").selectAll("rect").data(d3.range(-25,10.4,.25)).join("rect").attr("x",626).attr("width",6).attr("y",d=>yDb(d+.25)).attr("height",yDb(0)-yDb(.25)+.5).attr("fill",d=>dbColor(d));
const cb=svg.append("g").attr("transform","translate(632,0)").call(d3.axisRight(yDb).tickValues(cbarTicks).tickFormat("").tickSize(4));
cb.select(".domain").remove(); cb.selectAll(".tick line").attr("stroke","#000").attr("stroke-width",3);
txt(svg,"10",640,156.5,{size:17.5});
txt(svg,"0",640,188,{size:17.5});
txt(svg,"Intensity (dBuV)",617,215.5,{rot:true,anchor:"middle",size:17.5});
yAxis(yFreq,81,black,[0,10,20,30,40],6);
txt(svg,"40",66,158,{anchor:"end"});
txt(svg,"0",66,279.5,{anchor:"end"});
ylabel2("Frequency","(Hz)",211,28,54);
scaleBar(287.8,312.7);

// ---------- PANEL B ----------
const yUp=d3.scaleLinear().domain([0,2]).range([449.3,314]);
const yDown=d3.scaleLinear().domain([0,6]).range([449.3,314]);
gray(314,450.5); grayRight(314,450.5);
density(upDensity,upBands,yUp,"#1f77b4",.42);
density(downDensity,downBands,yDown,"#ff7f0e",.85);
dots(upDots,yUp,"#1f77b4",.12);
dots(downDots,yDown,"#ff7f0e",.38,2.5);
drawLine(alphaUp,yUp,"#1f6fb4",2.9);
drawLine(alphaDown,yDown,"#ff7f0e",2.9);
gap(314,450.5);
yAxis(yUp,67.4,"#1f6fb4",[0,.5,1,1.5,2]);
yAxis(yDown,94.3,"#ff7f0e",[0,1.5,3,4.5,6]);
txt(svg,"2",56.7,329,{anchor:"end",fill:"#1f6fb4"});
txt(svg,"0",56.7,451,{anchor:"end",fill:"#1f6fb4"});
txt(svg,"6",85,329,{anchor:"end",fill:"#ff7f0e"});
txt(svg,"0",85,451,{anchor:"end",fill:"#ff7f0e"});
txt(svg,"Duration of alpha up-state",102,335.7,{fill:"#1f6fb4",size:20.2});
txt(svg,"Duration of alpha down-state",102,357.7,{fill:"#f57a14",size:20.2});
ylabel2("Duration","(s)",378,28,54);
scaleBar(426.7,451);

// ---------- PANEL C ----------
const yC=d3.scaleLinear().domain([0,100]).range([618,484]);
gray(483.3,619.5);
drawLine(amiLevel,yC,"#ff0000",2.3);
grayRight(483.3,619.5);
gap(483.3,619.5);
yAxis(yC,81,black,[0,25,50,75,100],6);
txt(svg,"100",65,497.5,{anchor:"end"});
txt(svg,"0",65,620,{anchor:"end"});
txt(svg,"AMI",572.5,499,{anchor:"end",fill:"#ff2233",size:20});
ylabel2("Level","(%)",551,29,54);
scaleBar(588,613);

// ---------- PANEL D ----------
const yD=d3.scaleLinear().domain([0,3]).range([786.7,653.3]);
gray(652,787.7); grayRight(652,787.7);
density(cycleDensity,slowBands,yD,"#4f8f4f",.42);
density(stateDensity,slowBands,yD,"#7a2f8a",.42);
dots(cycleDots,yD,"#118011",.14);
dots(stateDots,yD,"#800080",.14);
drawLine(slowCycle,yD,"#118011",2.7);
drawLine(slowDown,yD,"#800080",2.7);
gap(652,787.7);
yAxis(yD,81,black,[0,.75,1.5,2.25,3],6);
txt(svg,"3",63,667,{anchor:"end"});
txt(svg,"0",63,790,{anchor:"end"});
txt(svg,"Duration of slow cycle",102,670.7,{fill:"#118011",size:20.2});
txt(svg,"Duration of slow down-state",102,690.7,{fill:"#800080",size:20.2});
ylabel2("Duration","(s)",720,28,54);
scaleBar(764.5,789);

// ---------- PANEL E ----------
const yE=d3.scaleLinear().domain([0,100]).range([955.7,821.7]);
gray(821,957);
drawLine(smiLevel,yE,"#000e8a",2.9);
grayRight(821,957);
gap(821,957);
yAxis(yE,81,black,[0,25,50,75,100],6);
txt(svg,"100",61,835.5,{anchor:"end"});
txt(svg,"0",61,957,{anchor:"end"});
txt(svg,"SMI",572,836.7,{anchor:"end",fill:"#000e8a",size:20});
ylabel2("Level","(%)",889,29,54);
scaleBar(932.7,957);

// ---------- PANEL F ----------
const yF=d3.scaleLinear().domain([0,100]).range([1125,990.7]);
gray(990,1126.7);
drawLine(bspLevel,yF,"#a52a2a",2.5);
grayRight(990,1126.7);
gap(990,1126.7,"#333");
yAxis(yF,81,black,[0,25,50,75,100],6);
txt(svg,"100",61,1005,{anchor:"end"});
txt(svg,"0",61,1125,{anchor:"end"});
txt(svg,"BSP",572.5,1005.7,{anchor:"end",fill:"#a52a2a",size:20});
ylabel2("Level","(%)",1058,29,54);
scaleBar(1102,1126.5);
</script></body></html>
